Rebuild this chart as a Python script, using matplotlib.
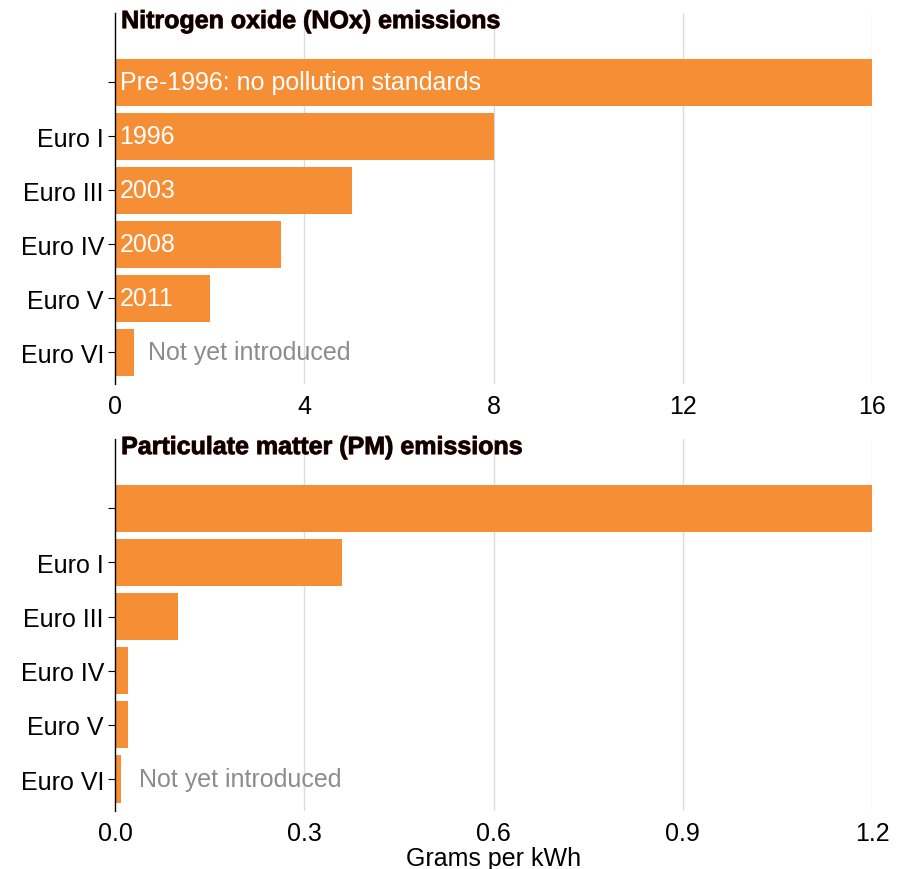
import matplotlib
matplotlib.use("Agg")
import matplotlib.pyplot as plt
import matplotlib.patheffects as pe

# Euro emission standards for heavy-duty diesel engines
categories = ["", "Euro I", "Euro III", "Euro IV", "Euro V", "Euro VI"]
nox = [16, 8, 5, 3.5, 2.0, 0.4]
pm = [1.2, 0.36, 0.1, 0.02, 0.02, 0.01]
nox_labels = ["Pre-1996: no pollution standards", "1996", "2003", "2008", "2011", ""]
nox_ticks = [0, 4, 8, 12, 16]
pm_ticks = [0.0, 0.3, 0.6, 0.9, 1.2]
pm_tick_labels = ["0.0", "0.3", "0.6", "0.9", "1.2"]

ORANGE = "#f68e36"
GRID = "#dcdcdc"
FS = 18
plt.rcParams["font.family"] = ["Liberation Sans", "DejaVu Sans"]

fig = plt.figure(figsize=(9.06, 8.70), dpi=100)
ax_top = fig.add_axes([0.127, 0.5575, 0.8355, 0.4264])
ax_bot = fig.add_axes([0.127, 0.0667, 0.8355, 0.4276])


def panel(ax, values, xmax, ticks, ticklabels, title, bar_labels, note_pad):
    ys = range(len(categories))
    ax.barh(ys, values, height=0.87, color=ORANGE, zorder=2)
    ax.set_xlim(0, xmax)
    ax.set_ylim(5.59, -1.28)
    ax.set_yticks(list(ys))
    ax.set_yticklabels(categories, fontsize=FS)
    ax.set_xticks(ticks)
    ax.set_xticklabels(ticklabels, fontsize=FS)
    ax.tick_params(axis="x", length=0, pad=7)
    ax.tick_params(axis="y", length=5, width=0.8, pad=3)
    for t in ticks[1:]:
        ax.axvline(t, color=GRID, lw=1, zorder=1)
    for side in ("top", "right", "bottom"):
        ax.spines[side].set_visible(False)
    ax.spines["left"].set_linewidth(1)
    ax.text(xmax * 0.008, -1.13, title, fontsize=FS, fontweight="bold",
            va="center", ha="left", color="black",
            path_effects=[pe.withStroke(linewidth=0.7, foreground="#6b0a0a")])
    for y, lab in enumerate(bar_labels):
        if lab:
            ax.text(xmax * 0.006, y, lab, color="white", fontsize=FS,
                    va="center", ha="left", zorder=3)
    last = len(values) - 1
    ax.text(values[last] + note_pad, last, "Not yet introduced", color="#8c8c8c",
            fontsize=FS, va="center", ha="left", zorder=3)


panel(ax_top, nox, 16, nox_ticks, [str(t) for t in nox_ticks],
      "Nitrogen oxide (NOx) emissions", nox_labels, 0.3)
panel(ax_bot, pm, 1.2, pm_ticks, pm_tick_labels,
      "Particulate matter (PM) emissions", [""] * 6, 0.028)
ax_bot.set_xlabel("Grams per kWh", fontsize=FS, labelpad=1)

fig.savefig("out.png", dpi=100)
